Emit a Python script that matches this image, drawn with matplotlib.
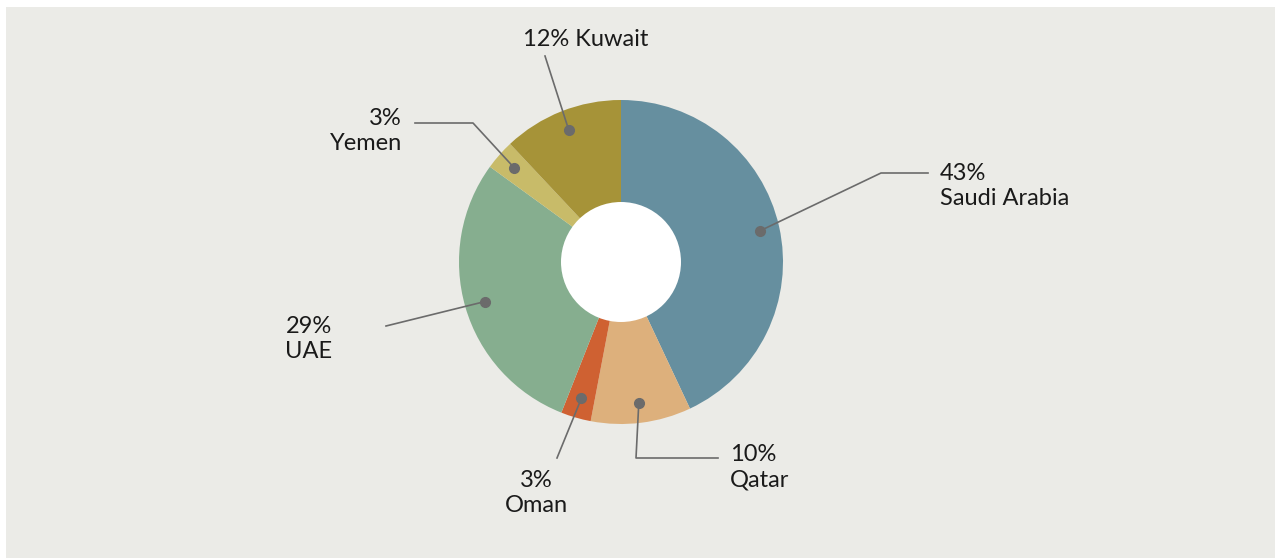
import numpy as np
import matplotlib.pyplot as plt
from matplotlib.patches import Circle, Rectangle

# shares, clockwise from 12 o'clock
COUNTRIES = ['Saudi Arabia', 'Qatar', 'Oman', 'UAE', 'Yemen', 'Kuwait']
SHARES = [43, 10, 3, 29, 3, 12]
COLORS = ['#668f9f', '#ddb07c', '#cf6132', '#86ae8f', '#c8bb69', '#a69338']

W, H = 1275, 558
CX, CY = 621, H - 262
R_OUT = 162
R_IN = 60
R_DOT = 142
BG = '#ebebe7'
LINEC = '#6b6b6b'
FONT = 'Lato'
FS = 17

# leader line elbows / ends and label anchors (pixel coords, y from top)
LEADERS = {
    'Saudi Arabia': dict(pts=[(881, 173), (928, 173)], txt=(940, 186), ha='left', two=True),
    'Qatar': dict(pts=[(636, 458), (718, 458)], txt=(730, 467), ha='left', two=True),
    'Oman': dict(pts=[(557, 458)], txt=(536, 493), ha='center', two=True),
    'UAE': dict(pts=[(386, 326)], txt=(309, 339), ha='center', two=True),
    'Yemen': dict(pts=[(473, 123), (415, 123)], txt=(402, 131), ha='right', two=True),
    'Kuwait': dict(pts=[(545, 56)], txt=(586, 40), ha='center', two=False),
}

fig = plt.figure(figsize=(W / 100, H / 100), dpi=100)
fig.patch.set_facecolor('white')
ax = fig.add_axes([0, 0, 1, 1])

ax.add_patch(Rectangle((6, 0), W - 6, H - 7, facecolor=BG, edgecolor='none', zorder=0))

wedges, _ = ax.pie(SHARES, colors=COLORS, startangle=90, counterclock=False,
                   center=(CX, CY), radius=R_OUT, frame=True,
                   wedgeprops=dict(linewidth=0))
ax.set_xlim(0, W)
ax.set_ylim(0, H)
ax.set_aspect('equal')
ax.axis('off')
ax.add_patch(Circle((CX, CY), R_IN, facecolor='white', edgecolor='none', zorder=5))

for w, name, share in zip(wedges, COUNTRIES, SHARES):
    mid = np.deg2rad((w.theta1 + w.theta2) / 2)
    dx, dy = CX + R_DOT * np.cos(mid), CY + R_DOT * np.sin(mid)
    lead = LEADERS[name]
    xs = [dx] + [p[0] for p in lead['pts']]
    ys = [dy] + [H - p[1] for p in lead['pts']]
    ax.plot(xs, ys, color=LINEC, lw=1.2, zorder=6)
    ax.plot(dx, dy, 'o', color=LINEC, ms=7, zorder=7)
    tx, ty = lead['txt']
    if lead['two']:
        label = f'{share}%\n{name}'
    else:
        label = f'{share}% {name}'
    ax.text(tx, H - ty, label, ha=lead['ha'], va='center', fontsize=FS,
            family=FONT, color='#1a1a1a', linespacing=1.28,
            multialignment=lead['ha'])

fig.savefig('out.png', dpi=100, facecolor=fig.get_facecolor())
